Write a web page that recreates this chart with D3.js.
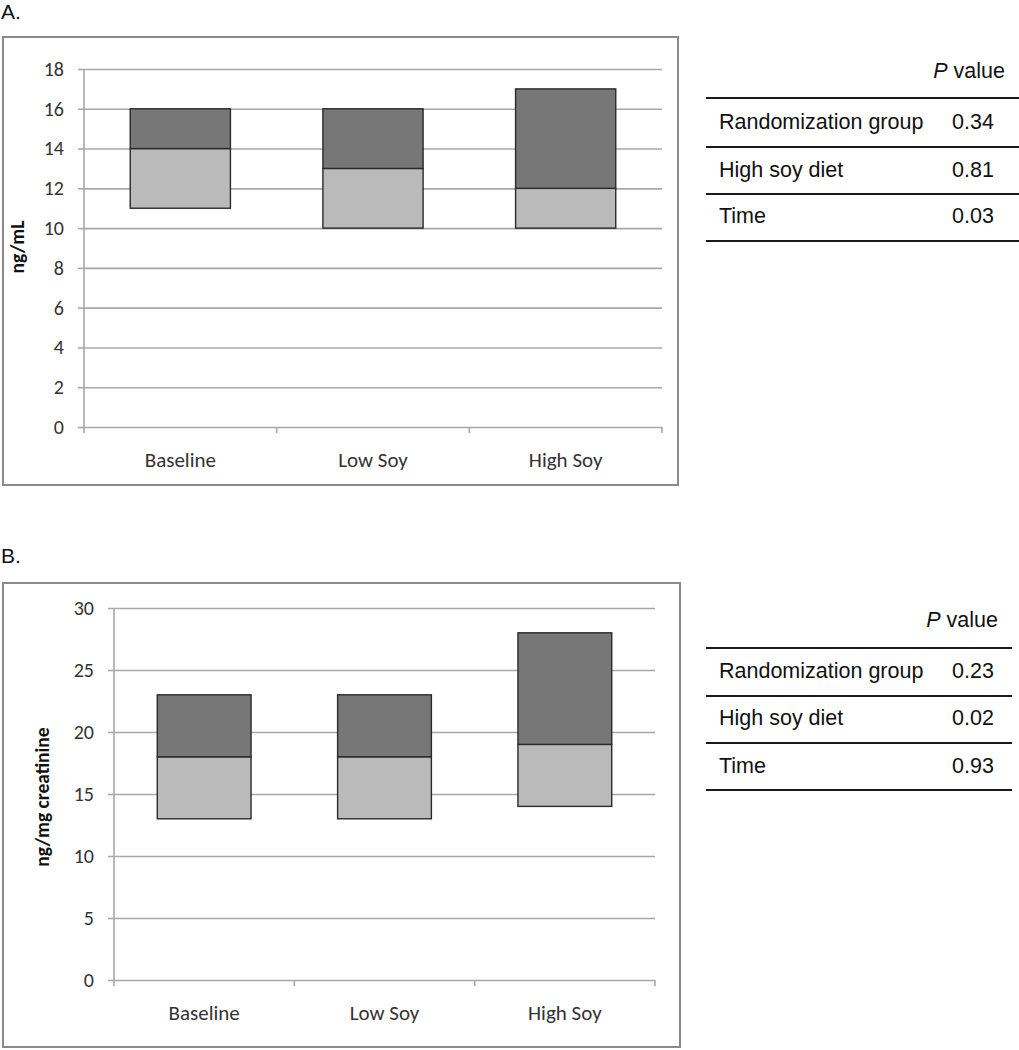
<!DOCTYPE html>
<html><head><meta charset="utf-8">
<script src="https://cdn.jsdelivr.net/npm/d3@7"></script>
<style>body{margin:0;background:#fff}svg{display:block}</style>
</head><body>
<svg id="chart" width="1019" height="1050"></svg>
<script>
// ---------- data ----------
const categories = ["Baseline", "Low Soy", "High Soy"];
// Panel A (ng/mL): box bottom, middle divider, top
const aBottom = [11, 10, 10];
const aMiddle = [14, 13, 12];
const aTop    = [16, 16, 17];
const aTicks  = [0, 2, 4, 6, 8, 10, 12, 14, 16, 18];
// Panel B (ng/mg creatinine)
const bBottom = [13, 13, 14];
const bMiddle = [18, 18, 19];
const bTop    = [23, 23, 28];
const bTicks  = [0, 5, 10, 15, 20, 25, 30];
// P value tables
const tableRows = ["Randomization group", "High soy diet", "Time"];
const aPvalues = ["0.34", "0.81", "0.03"];
const bPvalues = ["0.23", "0.02", "0.93"];

// ---------- drawing ----------
const svg = d3.select("#chart");
const tickFont = "Carlito, Lato, 'Noto Sans', sans-serif";
const tableFont = "'Liberation Sans', Arial, sans-serif";

function drawPanel(o) {
  const g = svg.append("g");
  // panel letter
  g.append("text").attr("x", 1).attr("y", o.letterY).text(o.letter)
    .attr("font-family", tableFont).attr("font-size", 21).attr("fill", "#111");
  // frame
  g.append("rect").attr("x", 3).attr("y", o.box[0]).attr("width", o.box[2])
    .attr("height", o.box[1]).attr("fill", "none").attr("stroke", "#8a8a8a").attr("stroke-width", 2);

  const y = d3.scaleLinear().domain([0, d3.max(o.ticks)]).range([o.y0, o.yTop]);
  const x = d3.scaleBand().domain(categories).range([o.x0, o.x1]).paddingInner(0.48).paddingOuter(0.24);

  // gridlines
  const grid = g.append("g").attr("transform", `translate(${o.x0},0)`)
    .call(d3.axisLeft(y).tickValues(o.ticks).tickSize(-(o.x1 - o.x0)).tickFormat(""));
  grid.select(".domain").remove();
  grid.selectAll("line").attr("stroke", "#a8a8a8").attr("stroke-width", 1.6);

  // y axis ticks + labels
  const ya = g.append("g").attr("transform", `translate(${o.x0},0)`)
    .call(d3.axisLeft(y).tickValues(o.ticks).tickSize(6).tickSizeOuter(0).tickPadding(14));
  ya.select(".domain").remove();
  ya.selectAll("line").attr("stroke", "#a8a8a8").attr("stroke-width", 1.6);
  ya.selectAll("text").attr("font-family", tickFont).attr("font-size", 20).attr("fill", "#333");
  // axis line (extends slightly below zero)
  g.append("line").attr("x1", o.x0).attr("x2", o.x0).attr("y1", o.yTop).attr("y2", o.y0 + 6)
    .attr("stroke", "#a8a8a8").attr("stroke-width", 1.6);

  // x axis labels
  const xa = g.append("g").attr("transform", `translate(0,${o.y0})`)
    .call(d3.axisBottom(x).tickSize(0).tickPadding(o.xLabelPad));
  xa.select(".domain").remove();
  xa.selectAll("text").attr("font-family", tickFont).attr("font-size", 21).attr("fill", "#333");
  // x tick marks at category boundaries
  const bounds = categories.map((c, i) => x(c) + x.bandwidth() + x.step() * x.paddingInner() / 2);
  g.selectAll(null).data(bounds).join("line")
    .attr("x1", d => d).attr("x2", d => d).attr("y1", o.y0).attr("y2", o.y0 + 6)
    .attr("stroke", "#a8a8a8").attr("stroke-width", 1.6);

  // y axis title
  g.append("text").attr("transform", `translate(${o.titleX},${o.titleY}) rotate(-90)`)
    .attr("text-anchor", "middle").text(o.title)
    .attr("font-family", tickFont).attr("font-size", 19.5).attr("font-weight", "bold").attr("fill", "#111");

  // boxes
  const rows = categories.map((c, i) => ({c, lo: o.lo[i], mid: o.mid[i], hi: o.hi[i]}));
  g.selectAll(null).data(rows).join("rect")
    .attr("x", d => x(d.c)).attr("width", x.bandwidth())
    .attr("y", d => y(d.mid)).attr("height", d => y(d.lo) - y(d.mid))
    .attr("fill", "#bababa").attr("stroke", "#2a2a2a").attr("stroke-width", 1.4);
  g.selectAll(null).data(rows).join("rect")
    .attr("x", d => x(d.c)).attr("width", x.bandwidth())
    .attr("y", d => y(d.hi)).attr("height", d => y(d.mid) - y(d.hi))
    .attr("fill", "#777777").attr("stroke", "#2a2a2a").attr("stroke-width", 1.4);

  // table
  const t = g.append("g");
  const hdr = t.append("text").attr("x", o.tab.right).attr("y", o.tab.headerY).attr("text-anchor", "end")
    .attr("font-family", tableFont).attr("font-size", 21.5).attr("fill", "#111");
  hdr.append("tspan").attr("font-style", "italic").text("P");
  hdr.append("tspan").text(" value");
  t.selectAll(null).data(o.tab.lines).join("line")
    .attr("x1", 706).attr("x2", o.tab.lineEnd).attr("y1", d => d).attr("y2", d => d)
    .attr("stroke", "#1a1a1a").attr("stroke-width", 2);
  t.selectAll(null).data(tableRows).join("text")
    .attr("x", 719).attr("y", (d, i) => o.tab.rowY[i]).text(d => d)
    .attr("font-family", tableFont).attr("font-size", 21.5).attr("fill", "#111");
  t.selectAll(null).data(o.pvals).join("text")
    .attr("x", 952).attr("y", (d, i) => o.tab.rowY[i]).text(d => d)
    .attr("font-family", tableFont).attr("font-size", 21.5).attr("fill", "#111");
}

drawPanel({
  letter: "A.", letterY: 19, box: [37, 448, 675],
  x0: 84, x1: 662, y0: 427, yTop: 69, ticks: aTicks,
  lo: aBottom, mid: aMiddle, hi: aTop, title: "ng/mL", titleX: 24, titleY: 247, xLabelPad: 25,
  pvals: aPvalues,
  tab: {right: 1005, headerY: 78, lines: [98, 147, 194, 241], rowY: [129, 177, 223], lineEnd: 1019}
});
drawPanel({
  letter: "B.", letterY: 563, box: [583, 464, 677],
  x0: 114, x1: 655, y0: 980, yTop: 608, ticks: bTicks,
  lo: bBottom, mid: bMiddle, hi: bTop, title: "ng/mg creatinine", titleX: 49, titleY: 797, xLabelPad: 25,
  pvals: bPvalues,
  tab: {right: 998, headerY: 627, lines: [648, 696, 743, 790], rowY: [678, 725, 773], lineEnd: 1012}
});
</script>
</body></html>
